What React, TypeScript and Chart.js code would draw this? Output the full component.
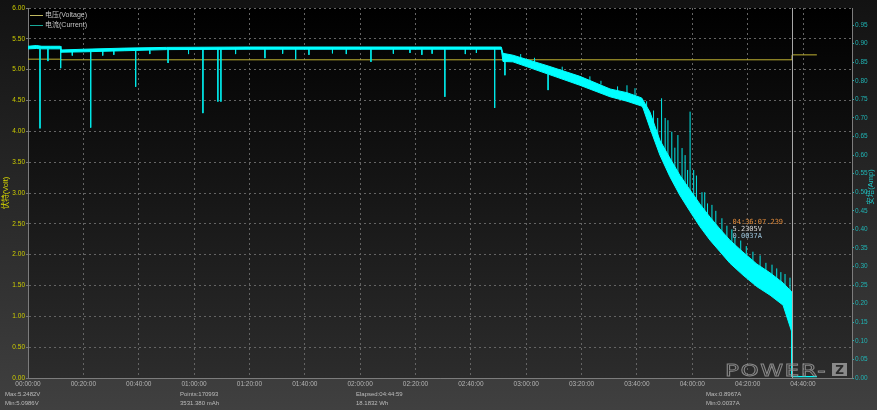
import React, { useEffect, useRef } from 'react';
import { Chart, registerables } from 'chart.js';
Chart.register(...registerables);

// ---- data (time in minutes) ----
const xTickMinutes = [0, 20, 40, 60, 80, 100, 120, 140, 160, 180, 200, 220, 240, 260, 280];
const voltTicks = [0, 0.5, 1, 1.5, 2, 2.5, 3, 3.5, 4, 4.5, 5, 5.5, 6];
const ampTicks = [0, 0.05, 0.1, 0.15, 0.2, 0.25, 0.3, 0.35, 0.4, 0.45, 0.5, 0.55, 0.6, 0.65, 0.7, 0.75, 0.8, 0.85, 0.9, 0.95];

const currentTimes = [0, 3, 5, 8, 11.7, 11.9, 20, 35, 50, 80, 120, 171.0, 171.6, 175.2, 187.9, 199.4, 210.3, 216.4, 221.7, 222.2, 224.7, 228.3, 231.9, 235.5, 239.2, 242.8, 246.4, 250.0, 253.6, 258.3, 263.3, 268.1, 272.8, 275.9, 276.0, 285.0];
const currentHi = [0.893, 0.895, 0.893, 0.893, 0.893, 0.883, 0.885, 0.888, 0.890, 0.891, 0.891, 0.891, 0.874, 0.869, 0.840, 0.812, 0.778, 0.768, 0.754, 0.748, 0.716, 0.640, 0.592, 0.546, 0.506, 0.468, 0.433, 0.401, 0.371, 0.339, 0.307, 0.283, 0.256, 0.232, 0.0037, 0.0037];
const currentLo = [0.886, 0.887, 0.886, 0.886, 0.886, 0.877, 0.878, 0.881, 0.884, 0.885, 0.885, 0.885, 0.852, 0.851, 0.818, 0.788, 0.757, 0.745, 0.732, 0.727, 0.673, 0.600, 0.542, 0.492, 0.448, 0.407, 0.371, 0.340, 0.309, 0.277, 0.246, 0.223, 0.196, 0.125, 0.0037, 0.0037];

// spikes: [time, base, tip]
const currentSpikes: [number, number, number][] = [
  [4.34, 0.886, 0.672], [7.2, 0.886, 0.853], [11.8, 0.880, 0.834], [16, 0.878, 0.868],
  [22.65, 0.879, 0.674], [27, 0.880, 0.868], [31, 0.880, 0.870], [38.9, 0.881, 0.784],
  [44, 0.882, 0.872], [50.6, 0.884, 0.848], [58, 0.884, 0.872], [63.2, 0.885, 0.713],
  [68.6, 0.885, 0.744], [69.7, 0.885, 0.744], [75, 0.885, 0.872], [85.6, 0.885, 0.861],
  [92, 0.885, 0.873], [96.7, 0.885, 0.858], [101.5, 0.885, 0.870], [110, 0.885, 0.874],
  [115, 0.885, 0.872], [123.9, 0.885, 0.851], [132, 0.885, 0.873], [138, 0.885, 0.875],
  [142.3, 0.885, 0.870], [146, 0.885, 0.873], [150.6, 0.885, 0.757], [158, 0.885, 0.872],
  [162, 0.885, 0.875], [168.6, 0.885, 0.727], [172.3, 0.855, 0.815], [187.9, 0.818, 0.775],
  [178, 0.86, 0.872], [183, 0.85, 0.862], [193, 0.825, 0.838], [203, 0.80, 0.812],
  [207, 0.79, 0.80], [213, 0.77, 0.785],
  [216.4, 0.76, 0.788], [219.3, 0.75, 0.780], [223.5, 0.72, 0.745], [226, 0.68, 0.72],
  [227.5, 0.65, 0.70], [228.9, 0.63, 0.753], [230.2, 0.60, 0.70], [231.2, 0.58, 0.694],
  [232.6, 0.57, 0.663], [233.7, 0.56, 0.62], [234.8, 0.53, 0.654], [236.3, 0.52, 0.619],
  [237.4, 0.50, 0.60], [238.3, 0.50, 0.56], [239.2, 0.48, 0.717], [240.5, 0.47, 0.56],
  [241.5, 0.46, 0.545], [243.5, 0.44, 0.50], [244.5, 0.43, 0.50], [245.5, 0.42, 0.47],
  [247.1, 0.40, 0.466], [248.5, 0.39, 0.45], [250.7, 0.37, 0.43], [252.5, 0.36, 0.41],
  [254.3, 0.35, 0.40], [255.4, 0.34, 0.38], [257.5, 0.32, 0.37], [259.5, 0.31, 0.355],
  [261.9, 0.30, 0.34], [264.5, 0.29, 0.33], [266.6, 0.28, 0.31], [268.8, 0.27, 0.305],
  [270.5, 0.26, 0.295], [272, 0.25, 0.285], [273.5, 0.245, 0.28], [275.3, 0.23, 0.27],
];

const voltTimes = [0, 11.8, 11.9, 276.0, 276.05, 285.0];
const voltValues = [5.17, 5.17, 5.16, 5.16, 5.24, 5.24];

const cursorTime = 276.12;
const annotationLines = ['04:36:07.239', '5.2305V', '0.0037A'];
const annotationAmp = 0.42;
const legendLabels = ['电压(Voltage)', '电流(Current)'];
const axisTitles = ['伏特(Volt)', '安培(Amp)'];
const statsRow1 = ['Max:5.2482V', 'Points:170993', 'Elapsed:04:44:59', 'Max:0.8967A'];
const statsRow2 = ['Min:5.0986V', '3531.380 mAh', '18.1832 Wh', 'Min:0.0037A'];

const FONT = '"Liberation Sans", "Noto Sans CJK SC", sans-serif';

function fmtTime(m: number) {
  const h = Math.floor(m / 60);
  const mm = Math.round(m % 60);
  const p = (n: number) => String(n).padStart(2, '0');
  return `${p(h)}:${p(mm)}:00`;
}

const decorPlugin = {
  id: 'decor',
  beforeDraw(chart: any) {
    const { ctx, chartArea: a, width, height } = chart;
    ctx.save();
    const g = ctx.createLinearGradient(0, 0, 0, height);
    g.addColorStop(0, '#121212');
    g.addColorStop(1, '#404040');
    ctx.fillStyle = g;
    ctx.fillRect(0, 0, width, height);
    const g2 = ctx.createLinearGradient(0, a.top, 0, a.bottom);
    g2.addColorStop(0, '#000000');
    g2.addColorStop(1, '#2c2c2c');
    ctx.fillStyle = g2;
    ctx.fillRect(a.left, a.top, a.right - a.left, a.bottom - a.top);
    ctx.restore();
  },
  afterDatasetsDraw(chart: any) {
    const { ctx, chartArea: a, scales } = chart;
    ctx.save();
    // cursor line
    const cx = Math.round(scales.x.getPixelForValue(cursorTime)) + 0.5;
    ctx.strokeStyle = '#a8a8a8';
    ctx.lineWidth = 1;
    ctx.beginPath();
    ctx.moveTo(cx, a.top);
    ctx.lineTo(cx, a.bottom);
    ctx.stroke();
    // annotation
    const ay = scales.y1.getPixelForValue(annotationAmp);
    ctx.font = '7px "DejaVu Sans Mono", monospace';
    ctx.textBaseline = 'middle';
    ctx.textAlign = 'left';
    const cols = ['#e08a3a', '#d8d8d8', '#9cc4dc'];
    annotationLines.forEach((t, i) => {
      ctx.fillStyle = cols[i];
      ctx.fillText(t, cx - 60, ay + i * 7.2);
    });
    // legend
    const lcols = ['#c0b860', '#18a898'];
    legendLabels.forEach((t, i) => {
      const y = a.top + 7.5 + i * 10;
      ctx.strokeStyle = lcols[i];
      ctx.beginPath();
      ctx.moveTo(a.left + 2, y);
      ctx.lineTo(a.left + 15, y);
      ctx.stroke();
      ctx.fillStyle = '#c4c4c4';
      ctx.font = `7px ${FONT}`;
      ctx.fillText(t, a.left + 17, y);
    });
    // POWER-Z logo
    ctx.save();
    ctx.translate(a.left + 697, a.bottom - 2);
    ctx.scale(1.45, 1);
    ctx.font = '16px "DejaVu Sans", sans-serif';
    (ctx as any).letterSpacing = '1px';
    ctx.strokeStyle = 'rgba(150,150,150,0.85)';
    ctx.lineWidth = 0.8;
    ctx.textBaseline = 'alphabetic';
    ctx.strokeText('POWER-', 0, 0);
    ctx.restore();
    ctx.fillStyle = '#8a8a8a';
    ctx.fillRect(a.left + 804, a.bottom - 15, 15, 13);
    ctx.fillStyle = '#2a2a2a';
    ctx.font = 'bold 12px "DejaVu Sans", sans-serif';
    ctx.textAlign = 'center';
    ctx.textBaseline = 'alphabetic';
    ctx.fillText('Z', a.left + 811.5, a.bottom - 4);
    ctx.restore();
  },
  afterDraw(chart: any) {
    const { ctx, chartArea: a } = chart;
    ctx.save();
    // axis titles
    ctx.font = `7.5px ${FONT}`;
    ctx.textAlign = 'center';
    ctx.textBaseline = 'middle';
    const midY = (a.top + a.bottom) / 2;
    ctx.translate(6, midY);
    ctx.rotate(-Math.PI / 2);
    ctx.fillStyle = '#d8d800';
    ctx.fillText(axisTitles[0], 0, 0);
    ctx.restore();
    ctx.save();
    ctx.font = `7.5px ${FONT}`;
    ctx.textAlign = 'center';
    ctx.textBaseline = 'middle';
    ctx.translate(871, midY - 6);
    ctx.rotate(-Math.PI / 2);
    ctx.fillStyle = '#20c0c0';
    ctx.fillText(axisTitles[1], 0, 0);
    ctx.restore();
    // stats
    ctx.save();
    ctx.font = `6px ${FONT}`;
    ctx.fillStyle = '#bcbcbc';
    ctx.textBaseline = 'middle';
    ctx.textAlign = 'left';
    const xs = [5, 180, 356, 706];
    statsRow1.forEach((t, i) => ctx.fillText(t, xs[i], 394.5));
    statsRow2.forEach((t, i) => ctx.fillText(t, xs[i], 403.5));
    ctx.restore();
  },
};

export default function App() {
  const ref = useRef<HTMLCanvasElement | null>(null);
  useEffect(() => {
    document.body.style.margin = '0';
    const canvas = ref.current!;
    const spikeData: any[] = [];
    currentSpikes.forEach(([t, b, tip]) => {
      spikeData.push({ x: t, y: b }, { x: t, y: tip }, { x: t, y: null });
    });
    const chart = new Chart(canvas, {
      type: 'line',
      data: {
        datasets: [
          {
            label: 'hi',
            data: currentTimes.map((t, i) => ({ x: t, y: currentHi[i] })),
            yAxisID: 'y1',
            borderColor: '#00ffff',
            backgroundColor: '#00ffff',
            borderWidth: 1,
            pointRadius: 0,
            fill: '+1',
            tension: 0,
          },
          {
            label: 'lo',
            data: currentTimes.map((t, i) => ({ x: t, y: currentLo[i] })),
            yAxisID: 'y1',
            borderColor: '#00ffff',
            borderWidth: 1,
            pointRadius: 0,
            fill: false,
            tension: 0,
          },
          {
            label: 'spikes',
            data: spikeData,
            yAxisID: 'y1',
            borderColor: '#00e8e8',
            borderWidth: 1,
            pointRadius: 0,
            fill: false,
            spanGaps: false,
          },
          {
            label: 'voltage',
            data: voltTimes.map((t, i) => ({ x: t, y: voltValues[i] })),
            yAxisID: 'y',
            borderColor: '#c0b232',
            borderWidth: 1,
            pointRadius: 0,
            fill: false,
          },
        ],
      },
      options: {
        animation: false,
        responsive: false,
        devicePixelRatio: 1,
        layout: { padding: { top: 8, left: 0, right: 0, bottom: 0 } },
        plugins: { legend: { display: false }, tooltip: { enabled: false } },
        scales: {
          x: {
            type: 'linear',
            min: 0,
            max: 297.7,
            offset: false,
            afterBuildTicks: (s: any) => { s.ticks = xTickMinutes.map((v) => ({ value: v })); },
            afterFit: (s: any) => { s.height = 32; },
            ticks: {
              callback: (v: any) => fmtTime(Number(v)),
              color: '#b4b4b4',
              font: { size: 6.5, family: FONT },
              padding: 2,
              maxRotation: 0,
              autoSkip: false,
            },
            grid: { color: '#646464', drawTicks: false, tickLength: 0 },
            border: { display: true, color: '#7c7c7c', dash: [2, 3] },
          },
          y: {
            type: 'linear',
            position: 'left',
            min: 0,
            max: 6,
            afterBuildTicks: (s: any) => { s.ticks = voltTicks.map((v) => ({ value: v })); },
            afterFit: (s: any) => { s.width = 28; },
            ticks: {
              callback: (v: any) => Number(v).toFixed(2),
              color: '#cccc00',
              font: { size: 6.5, family: FONT },
              padding: 1,
            },
            grid: { color: '#646464', tickLength: 2, tickColor: '#777777' },
            border: { display: true, color: '#7c7c7c', dash: [2, 3] },
          },
          y1: {
            type: 'linear',
            position: 'right',
            min: 0,
            max: 0.996,
            afterBuildTicks: (s: any) => { s.ticks = ampTicks.map((v) => ({ value: v })); },
            afterFit: (s: any) => { s.width = 25; },
            ticks: {
              callback: (v: any) => Number(v).toFixed(2),
              color: '#20b4b4',
              font: { size: 6.5, family: FONT },
              padding: 1,
            },
            grid: { drawOnChartArea: false, tickLength: 2, tickColor: '#20b4b4' },
            border: { display: true, color: '#7c7c7c' },
          },
        },
      },
      plugins: [decorPlugin],
    } as any);
    return () => chart.destroy();
  }, []);
  return <canvas ref={ref} width={877} height={410} style={{ display: 'block', width: 877, height: 410 }} />;
}
